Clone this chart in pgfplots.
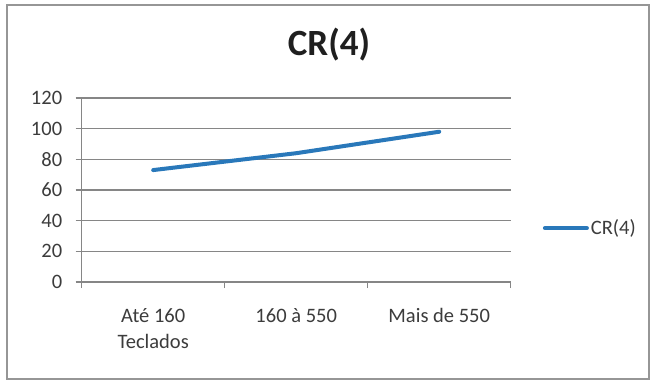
\documentclass[border=0pt]{standalone}
\usepackage{fontspec}
\setmainfont{Carlito}
\usepackage{pgfplots}
\pgfplotsset{compat=1.18}
\definecolor{seriesblue}{RGB}{41,120,186}
\definecolor{gridgray}{RGB}{134,134,134}
\definecolor{labelgray}{RGB}{60,60,60}
\definecolor{framegray}{RGB}{150,150,150}
\begin{document}
\begin{tikzpicture}[x=1pt,y=1pt]
% chart area background and frame
\fill[white] (0,0) rectangle (652,381);
\draw[framegray, line width=2pt] (7,2) rectangle (649,376);
% chart title
\node[font=\bfseries\fontsize{37}{42}\selectfont, text=black!88] at (329,336) {CR(4)};
\begin{axis}[
  at={(81.7pt,99pt)}, anchor=south west,
  scale only axis, width=429pt, height=184pt,
  xmin=-0.5, xmax=2.5, ymin=0, ymax=120,
  ytick={0,20,...,120},
  xtick={0,1,2},
  xticklabels={{Até 160\\Teclados},{160 à 550},{Mais de 550}},
  minor xtick={-0.5,0.5,1.5,2.5},
  axis x line*=bottom, axis y line*=left,
  axis line style={gridgray, line width=1.2pt, -},
  ymajorgrids, major grid style={gridgray, line width=1.2pt},
  tick align=outside,
  major tick length=6pt, minor tick length=6pt,
  every major x tick/.append style={draw=none},
  every tick/.append style={gridgray, line width=1.2pt},
  every minor tick/.append style={gridgray, line width=1.2pt},
  tick label style={font=\fontsize{20.5}{26}\selectfont, text=labelgray},
  xticklabel style={align=center, yshift=-17pt},
  yticklabel style={xshift=-10pt},
  /pgf/number format/assume math mode=true,
  legend style={draw=none, fill=none, inner sep=0pt,
    at={(axis description cs:1,0.293)}, anchor=west, xshift=32pt,
    font=\fontsize{20.5}{22}\selectfont, text=labelgray},
  legend cell align=left,
  legend image code/.code={\draw[#1] (0pt,0pt) -- (42pt,0pt);},
]
\addplot[seriesblue, line width=4pt, line cap=round] coordinates {(0,73) (1,84) (2,98)};
\addlegendentry{CR(4)}
\end{axis}
\end{tikzpicture}
\end{document}
